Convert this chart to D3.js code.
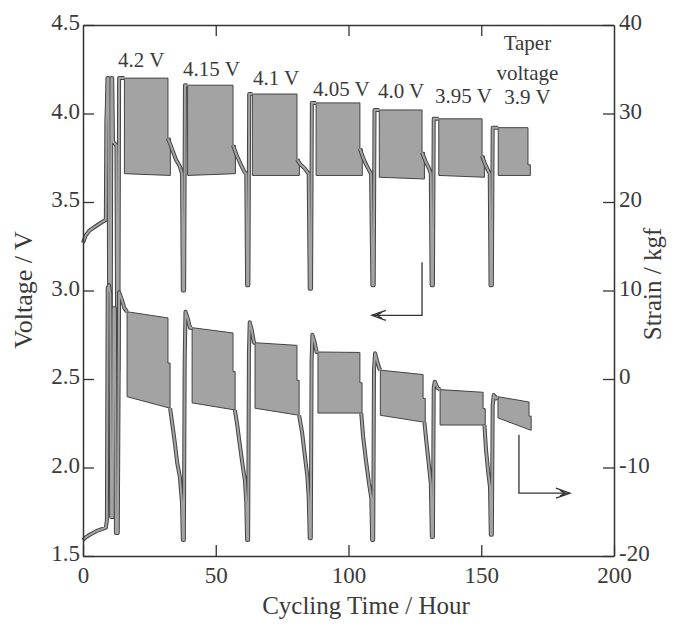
<!DOCTYPE html>
<html><head><meta charset="utf-8">
<script src="https://cdn.jsdelivr.net/npm/d3@7"></script>
<style>
html,body{margin:0;padding:0;background:#fff;}
svg{display:block;}
text{font-family:"Liberation Serif","Times New Roman",serif;fill:#3a3a3a;}
</style></head><body>
<svg id="c" width="675" height="627"></svg>
<script>
// ---------- data ----------
const timeTicks = [0, 50, 100, 150, 200];
const voltTicks = [1.5, 2.0, 2.5, 3.0, 3.5, 4.0, 4.5];
const strainTicks = [-20, -10, 0, 10, 20, 30, 40];

// taper-voltage hold blocks (dense cycling bands)
const taperLabels = ["4.2 V", "4.15 V", "4.1 V", "4.05 V", "4.0 V", "3.95 V"];
const voltBandStart = [15.6, 39.4, 63.8, 87.8, 111.6, 134.0, 156.4];
const voltBandEnd   = [32.0, 56.5, 80.6, 104.3, 127.7, 150.3, 167.6];
const voltTop       = [4.20, 4.16, 4.11, 4.06, 4.02, 3.97, 3.92];
const voltBotL      = [3.66, 3.65, 3.65, 3.65, 3.64, 3.65, 3.65];
const voltBotR      = [3.65, 3.66, 3.65, 3.65, 3.63, 3.64, 3.65];

const strainBandStart = [16.6, 41.1, 64.8, 88.5, 112.0, 134.5, 156.3];
const strainBandEnd   = [32.0, 56.5, 80.6, 104.3, 128.1, 150.7, 168.0];
const strainTopL      = [7.6, 5.8, 4.1, 3.05, 1.0, -1.2, -2.0];
const strainTopR      = [6.9, 5.2, 3.8, 3.0, 0.5, -1.5, -2.6];
const strainBotL      = [-2.0, -2.7, -3.3, -3.85, -4.1, -5.2, -4.4];
const strainBotR      = [-3.3, -3.5, -4.1, -3.85, -4.9, -5.2, -5.8];

// voltage traces (hour, V): start-up and relaxation/discharge between blocks
const voltTrace = [
  [[0,3.27],[1,3.31],[2.5,3.34],[4.5,3.36],[6.5,3.38],[8.6,3.40],[8.8,3.95],[9.0,4.05],[9.2,4.2],[9.6,4.2],[9.9,2.55],[10.4,2.55],[10.7,4.2],[11.0,4.2],[11.3,3.84],[12.6,3.82],[12.9,2.55],[13.3,2.55],[13.6,4.2],[15.6,4.2]],
  [[32.0,3.86],[33.5,3.80],[35.0,3.74],[36.5,3.70],[37.3,3.66],[37.6,3.0],[38.1,3.0],[38.4,4.16],[39.4,4.16]],
  [[56.5,3.82],[58.0,3.76],[59.5,3.71],[60.8,3.67],[61.5,3.66],[61.8,3.03],[62.3,3.03],[62.6,4.11],[63.8,4.11]],
  [[80.6,3.74],[82.0,3.71],[83.5,3.69],[85.0,3.66],[85.4,3.01],[85.9,3.01],[86.2,4.06],[87.8,4.06]],
  [[104.3,3.80],[105.5,3.75],[107.0,3.70],[108.5,3.66],[109.0,3.03],[109.5,3.03],[109.8,4.02],[111.6,4.02]],
  [[127.7,3.78],[129.0,3.73],[130.3,3.69],[131.0,3.66],[131.3,3.03],[131.8,3.03],[132.1,3.97],[134.0,3.97]],
  [[150.3,3.76],[151.3,3.72],[152.5,3.68],[153.2,3.66],[153.5,3.03],[154.0,3.03],[154.3,3.92],[156.4,3.92]]
];

// strain traces (hour, kgf)
const strainTrace = [
  [[0,-18.2],[1,-17.9],[2.5,-17.6],[5,-17.2],[8.6,-16.8],[9.0,-16.0],[9.3,10.3],[9.8,10.6],[10.3,9.6],[10.6,-15.6],[11.2,-15.6],[11.5,8],[12.0,8],[12.4,-17.4],[13.1,-17.4],[13.6,9.8],[14.6,9.0],[15.6,8.0],[16.6,7.6]],
  [[32.8,-3.3],[33.5,-4.8],[34.5,-7.0],[35.5,-9.5],[36.5,-11.1],[37.3,-14.0],[37.6,-18.2],[38.0,-18.2],[38.3,2.0],[38.6,7.6],[39.5,6.8],[40.3,5.8],[41.1,5.8]],
  [[57.2,-3.5],[58.0,-5.0],[59.0,-7.3],[60.0,-9.5],[61.0,-11.5],[61.5,-14.0],[61.8,-18.2],[62.2,-18.2],[62.5,3.0],[62.8,6.4],[63.5,5.6],[64.4,4.1],[64.8,4.1]],
  [[81.4,-4.1],[82.5,-6.0],[83.5,-8.5],[84.5,-11.0],[85.0,-13.3],[85.4,-18.0],[85.8,-18.0],[86.1,2.0],[86.4,5.0],[87.2,4.2],[88.0,3.05],[88.5,3.05]],
  [[104.8,-3.85],[105.5,-6.5],[106.5,-9.0],[107.7,-11.75],[108.6,-13.5],[108.9,-18.2],[109.3,-18.2],[109.6,1.0],[110.0,2.9],[110.8,2.0],[111.6,1.2],[112.0,1.0]],
  [[128.6,-4.9],[129.3,-7.0],[130.2,-9.5],[131.0,-11.75],[131.4,-17.85],[131.8,-17.85],[132.1,-1.0],[132.5,-0.3],[133.5,-1.0],[134.5,-1.2]],
  [[151.2,-5.2],[151.8,-8.0],[152.6,-10.5],[153.3,-12.2],[153.6,-17.6],[154.0,-17.6],[154.3,-3.0],[154.7,-1.8],[155.5,-2.2],[156.3,-2.0]]
];

// ---------- chart ----------
const svg = d3.select("#c");
const x  = d3.scaleLinear([0, 200], [83, 614]);
const yV = d3.scaleLinear([1.5, 4.5], [556, 25]);
const yS = d3.scaleLinear([-20, 40], [556, 25]);

const fillGray = "#a3a3a3", edge = "#444";

// bands
const vBands = voltTop.map((t, i) => [
  [voltBandStart[i], t], [voltBandEnd[i], t], [voltBandEnd[i], voltTrace[i+1] ? voltTrace[i+1][0][1] : 3.71],
  [voltBandEnd[i] + 0.9, voltTrace[i+1] ? voltTrace[i+1][0][1] : 3.71],
  [voltBandEnd[i] + 0.9, voltBotR[i]], [voltBandStart[i], voltBotL[i]]
]);
const sBands = strainTopL.map((t, i) => [
  [strainBandStart[i], t], [strainBandEnd[i], strainTopR[i]], [strainBandEnd[i], (strainTopR[i] + strainBotR[i]) / 2],
  [strainBandEnd[i] + 0.8, (strainTopR[i] + strainBotR[i]) / 2], [strainBandEnd[i] + 0.8, strainBotR[i]], [strainBandStart[i], strainBotL[i]]
]);

const lineV = d3.line().x(d => x(d[0])).y(d => yV(d[1]));
const lineS = d3.line().x(d => x(d[0])).y(d => yS(d[1]));

const g = svg.append("g");
g.selectAll("path.vb").data(vBands).join("path").attr("class", "vb")
  .attr("d", d => lineV(d) + "Z").attr("fill", fillGray).attr("stroke", edge).attr("stroke-width", 1);
g.selectAll("path.sb").data(sBands).join("path").attr("class", "sb")
  .attr("d", d => lineS(d) + "Z").attr("fill", fillGray).attr("stroke", edge).attr("stroke-width", 1);

function traces(data, line) {
  g.selectAll(null).data(data).join("path").attr("d", line)
    .attr("fill", "none").attr("stroke", edge).attr("stroke-width", 4).attr("stroke-linejoin", "round");
  g.selectAll(null).data(data).join("path").attr("d", line)
    .attr("fill", "none").attr("stroke", fillGray).attr("stroke-width", 2).attr("stroke-linejoin", "round");
}
traces(voltTrace, lineV);
traces(strainTrace, lineS);

// axes (inward ticks)
const axStyle = sel => {
  sel.selectAll(".domain").attr("stroke", "#333").attr("stroke-width", 1.5);
  sel.selectAll(".tick line").attr("stroke", "#333").attr("stroke-width", 1.3);
  sel.selectAll(".tick text").attr("font-family", '"Liberation Serif", serif').attr("font-size", 23).attr("fill", "#3a3a3a");
};
svg.append("g").attr("transform", "translate(0,556)")
  .call(d3.axisBottom(x).tickValues(timeTicks).tickSize(-11).tickSizeOuter(0).tickPadding(11).tickFormat(d => String(d)))
  .call(axStyle);
svg.append("g").attr("transform", "translate(0,25)")
  .call(d3.axisTop(x).tickValues(timeTicks.slice(1, -1)).tickSize(-11).tickSizeOuter(0).tickFormat(""))
  .call(axStyle);
svg.append("g").attr("transform", "translate(83,0)")
  .call(d3.axisLeft(yV).tickValues(voltTicks).tickSize(-11).tickSizeOuter(0).tickPadding(3).tickFormat(d => d.toFixed(1)))
  .call(axStyle)
  .selectAll(".tick text").attr("dy", "0.2em");
svg.append("g").attr("transform", "translate(614,0)")
  .call(d3.axisRight(yS).tickValues(strainTicks).tickSize(-11).tickSizeOuter(0).tickPadding(5).tickFormat(d => String(d)))
  .call(axStyle)
  .selectAll(".tick text").attr("dy", "0.2em");

// axis titles
svg.append("text").attr("x", 366).attr("y", 614).attr("text-anchor", "middle").attr("font-size", 25).text("Cycling Time / Hour");
svg.append("text").attr("transform", "translate(32,290) rotate(-90)").attr("text-anchor", "middle").attr("font-size", 26).text("Voltage / V");
svg.append("text").attr("transform", "translate(661,284) rotate(-90)").attr("text-anchor", "middle").attr("font-size", 25).text("Strain / kgf");

// taper labels
const labelAt = [[13.2, 4.26], [37.7, 4.21], [64.0, 4.16], [86.6, 4.10], [111.1, 4.09], [132.6, 4.06]];
svg.selectAll("text.tl").data(taperLabels).join("text").attr("class", "tl")
  .attr("x", (d, i) => x(labelAt[i][0])).attr("y", (d, i) => yV(labelAt[i][1]))
  .attr("font-size", 21).text(d => d);
const lastLabel = [["Taper", 4.36], ["voltage", 4.19], ["3.9 V", 4.055]];
svg.selectAll("text.ll").data(lastLabel).join("text").attr("class", "ll")
  .attr("x", x(167.4)).attr("y", d => yV(d[1])).attr("text-anchor", "middle")
  .attr("font-size", 21).text(d => d[0]);

// arrows
const arrowV = [[127.7, 3.16], [127.7, 2.86], [108.8, 2.86]];
const arrowS = [[164.2, -6.3], [164.2, -12.9], [183.4, -12.9]];
svg.append("path").attr("d", lineV(arrowV)).attr("fill", "none").attr("stroke", "#333").attr("stroke-width", 1.3);
svg.append("path").attr("d", lineS(arrowS)).attr("fill", "none").attr("stroke", "#333").attr("stroke-width", 1.3);
function head(px, py, dir) {
  const p = d3.path();
  p.moveTo(px + dir * 14, py - 5); p.lineTo(px, py); p.lineTo(px + dir * 14, py + 5);
  p.moveTo(px + dir * 10, py - 3); p.lineTo(px + dir * 5, py);
  p.lineTo(px + dir * 10, py + 3);
  svg.append("path").attr("d", p.toString()).attr("fill", "none").attr("stroke", "#333").attr("stroke-width", 1.3);
}
head(x(arrowV[2][0]), yV(arrowV[2][1]), 1);
head(x(arrowS[2][0]), yS(arrowS[2][1]), -1);
</script></body></html>
